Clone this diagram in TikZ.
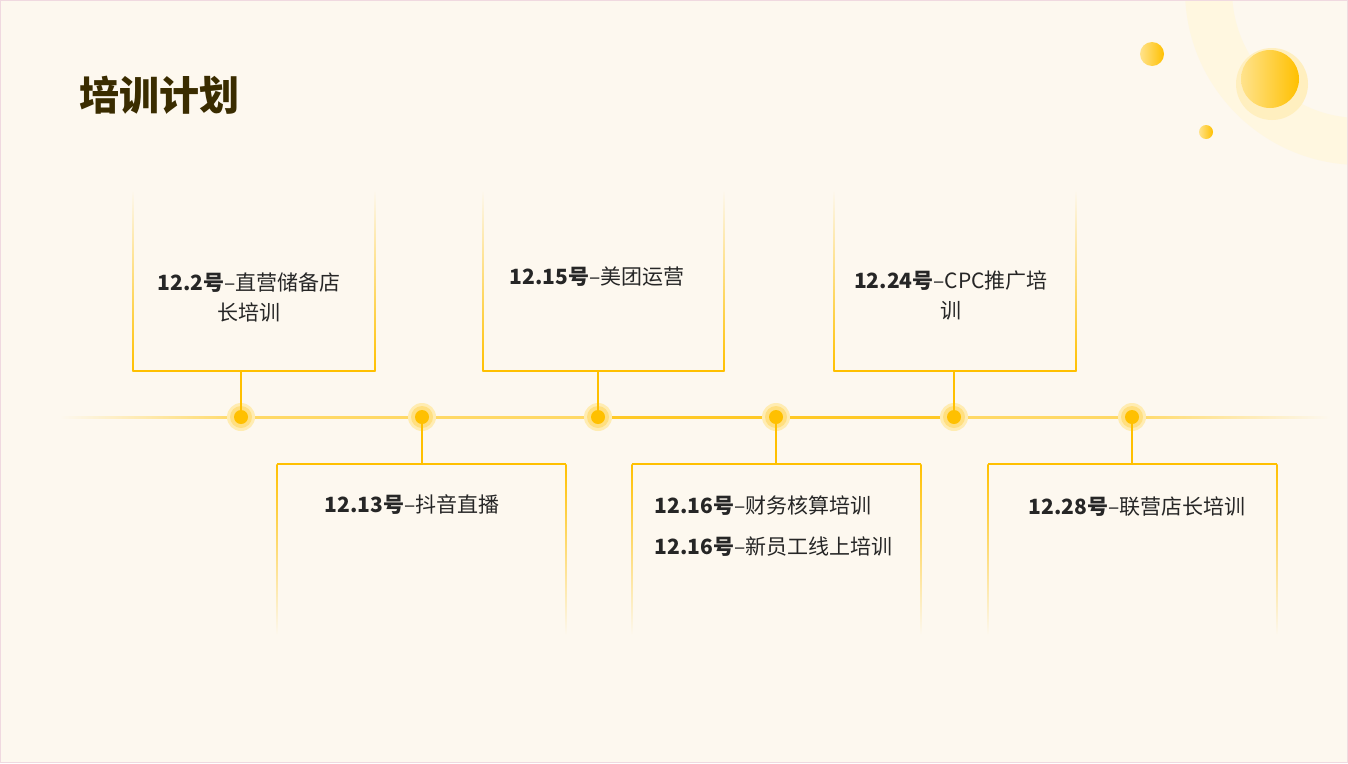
\documentclass[tikz,border=0pt]{standalone}
\usepackage{fontspec}
\setmainfont{Noto Sans CJK SC}
\usetikzlibrary{fadings}
\definecolor{bg}{HTML}{FDF8EF}
\definecolor{gold}{HTML}{FFC000}
\definecolor{txt}{HTML}{262626}
\definecolor{ttl}{HTML}{3A2C00}
\tikzset{
 dot/.style={circle,fill=gold,minimum size=14pt,inner sep=0},
 lbl/.style={font=\fontsize{21}{30}\selectfont,text=txt,align=center},
 conn/.style={draw=gold,line width=1.3pt}
}
\newcommand{\tbox}[2]{% x1,x2 top box y 190-371
 \shade[top color=bg,bottom color=gold] (#1-0.6,190) rectangle (#1+0.6,371);
 \shade[top color=bg,bottom color=gold] (#2-0.6,190) rectangle (#2+0.6,371);
 \draw[gold,line width=1.2pt] (#1,371) -- (#2,371);}
\newcommand{\bbox}[2]{%
 \shade[top color=gold,bottom color=bg] (#1-0.6,464) rectangle (#1+0.6,635);
 \shade[top color=gold,bottom color=bg] (#2-0.6,464) rectangle (#2+0.6,635);
 \draw[gold,line width=1.2pt] (#1,464) -- (#2,464);}
\begin{document}
\begin{tikzpicture}[x=1pt,y=-1pt]
\fill[bg] (0,0) rectangle (1348,763);
\useasboundingbox (0,0) rectangle (1348,763);
\begin{scope}
\clip (0,0) rectangle (1348,763);
\fill[gold!12,even odd rule] (1360,-10) circle (175) (1360,-10) circle (128);
\fill[gold!25] (1272,84) circle (36);
\shade[left color=gold!45,right color=gold] (1270,79) circle (29);
\shade[left color=gold!45,right color=gold] (1152,54) circle (12);
\shade[left color=gold!45,right color=gold] (1206,132) circle (7);
\end{scope}
\draw[black!20!purple!15,line width=1pt] (0.5,0.5) rectangle (1347.5,762.5);
\node[anchor=west,font=\fontsize{40}{44}\selectfont\bfseries,text=ttl] (title) at (76,95) {培训计划};
% timeline
\shade[left color=bg,right color=gold!60] (60,416) rectangle (241,418);
\fill[gold!60] (241,416) rectangle (1132,418.5);
\fill[gold!85] (598,416) rectangle (954,418.5);
\shade[left color=gold!60,right color=bg] (1132,416) rectangle (1330,418);
\foreach \n/\x in {d1/241,d2/422,d3/598,d4/776,d5/954,d6/1132}{
 \fill[gold!30] (\x,417) circle (14);
 \fill[gold!50] (\x,417) circle (11);
 \node[dot] (\n) at (\x,417) {};}
\tbox{133}{375}\tbox{483}{724}\tbox{834}{1076}
\bbox{277}{566}\bbox{632}{921}\bbox{988}{1277}
\coordinate (t1) at (241,371);\coordinate (t3) at (598,371);\coordinate (t5) at (954,371);
\coordinate (b2) at (422,464);\coordinate (b4) at (776,464);\coordinate (b6) at (1132,464);
\draw[conn] (t1) -- ([yshift=-8]d1.north);
\draw[conn] (t3) -- ([yshift=-8]d3.north);
\draw[conn] (t5) -- ([yshift=-8]d5.north);
\draw[conn] (b2) -- ([yshift=8]d2.south);
\draw[conn] (b4) -- ([yshift=8]d4.south);
\draw[conn] (b6) -- ([yshift=8]d6.south);
\node[lbl] (l1) at (249,297) {\textbf{12.2号}--直营储备店\\长培训};
\node[lbl] (l3) at (597,277) {\textbf{12.15号}--美团运营};
\node[lbl] (l5) at (951,295) {\textbf{12.24号}--CPC推广培\\训};
\node[lbl] (l2) at (412,505) {\textbf{12.13号}--抖音直播};
\node[lbl,align=left,anchor=west,font=\fontsize{21}{41}\selectfont] (l4) at (651,526) {\textbf{12.16号}--财务核算培训\\\textbf{12.16号}--新员工线上培训};
\node[lbl] (l6) at (1137,507) {\textbf{12.28号}--联营店长培训};
\end{tikzpicture}
\end{document}
